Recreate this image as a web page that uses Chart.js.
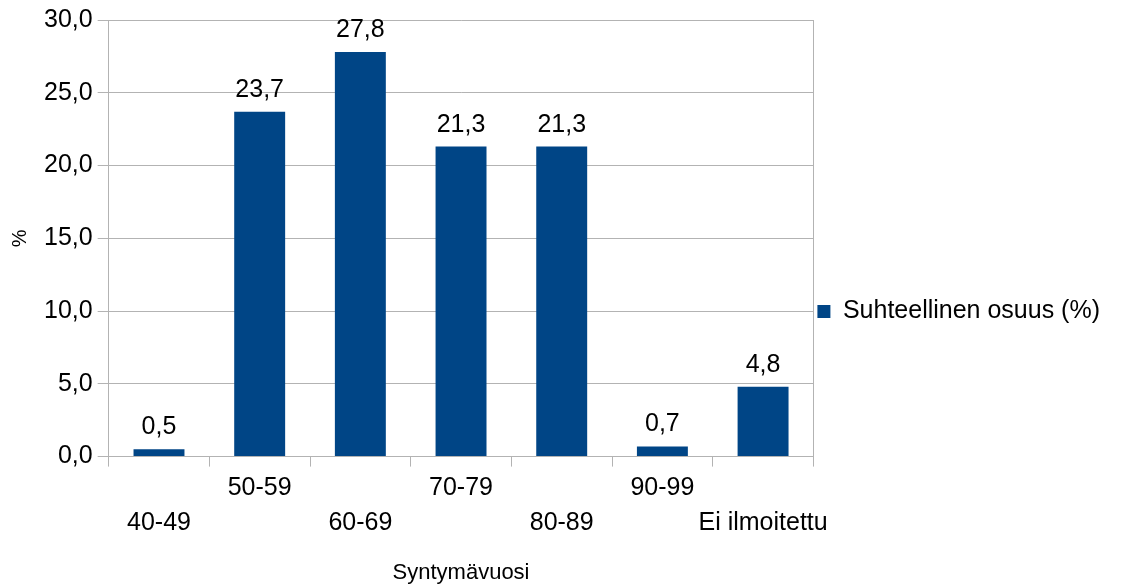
<!DOCTYPE html>
<html>
<head>
<meta charset="utf-8">
<script src="https://cdn.jsdelivr.net/npm/chart.js@4/dist/chart.umd.min.js"></script>
<style>
  html, body { margin: 0; padding: 0; background: #fff; }
  #wrap { width: 1121px; height: 586px; position: relative; }
</style>
</head>
<body>
<div id="wrap"><canvas id="bar-chart"></canvas></div>
<script>
// DATA
const categories = ["40-49", "50-59", "60-69", "70-79", "80-89", "90-99", "Ei ilmoitettu"];
const shares = [0.5, 23.7, 27.8, 21.3, 21.3, 0.7, 4.8];
const seriesName = "Suhteellinen osuus (%)";
const yTicks = [0, 5, 10, 15, 20, 25, 30];

const FONT = "'Liberation Sans', Arial, sans-serif";
const GRID = '#b3b3b3';

function fi(v, d){
	return v.toFixed(d).replace('.', ',');
}

// value labels above bars
const valueLabels = {
	id: 'valueLabels',
	afterDatasetsDraw(chart){
		const ctx = chart.ctx;
		ctx.save();
		ctx.font = '25px ' + FONT;
		ctx.fillStyle = '#000';
		ctx.textAlign = 'center';
		ctx.textBaseline = 'middle';
		chart.getDatasetMeta(0).data.forEach((bar, i) => {
			ctx.fillText(fi(shares[i], 1), bar.x, bar.y - 22);
		});
		ctx.restore();
	}
};

new Chart(document.getElementById('bar-chart').getContext('2d'), {
	type: 'bar',
	data: {
		labels: categories,
		datasets: [{
			label: seriesName,
			data: shares,
			backgroundColor: '#004586',
			barPercentage: 0.506,
			categoryPercentage: 1.0
		}]
	},
	options: {
		responsive: true,
		maintainAspectRatio: false,
		animation: false,
		layout: { padding: { top: 15, right: 11, bottom: 0, left: 8 } },
		plugins: {
			tooltip: { enabled: false },
			legend: {
				position: 'right',
				maxWidth: 330,
				title: { display: true, text: ' ', padding: 5, font: { size: 10 } },
				labels: {
					boxWidth: 13, boxHeight: 13, padding: 4,
					color: '#000',
					font: { family: FONT, size: 25 }
				}
			}
		},
		scales: {
			x: {
				offset: true,
				grid: { offset: true, drawOnChartArea: false, drawTicks: true, tickLength: 10, color: GRID },
				border: { color: GRID },
				ticks: {
					autoSkip: false, maxRotation: 0, minRotation: 0, padding: 4,
					color: '#000',
					font: { family: FONT, size: 25, lineHeight: 1.4 },
					callback: (v, i) => i % 2 === 0 ? ['', categories[i]] : [categories[i], '']
				},
				title: {
					display: true, text: 'Syntymävuosi', color: '#000',
					font: { family: FONT, size: 22 }, padding: { top: 15, bottom: 0 }
				}
			},
			y: {
				min: 0, max: 30,
				afterBuildTicks: axis => { axis.ticks = yTicks.map(v => ({ value: v })); },
				grid: { color: GRID, tickLength: 11 },
				border: { color: GRID },
				ticks: {
					color: '#000', padding: 5,
					font: { family: FONT, size: 25 },
					callback: v => fi(v, 1)
				},
				title: {
					display: true, text: '%', color: '#000',
					font: { family: FONT, size: 20 }, padding: { top: 0, bottom: 7 }
				}
			},
			y2: {
				position: 'right', min: 0, max: 30,
				grid: { drawOnChartArea: false, drawTicks: false },
				border: { color: GRID },
				ticks: { display: false }
			}
		}
	},
	plugins: [valueLabels]
});
</script>
</body>
</html>
